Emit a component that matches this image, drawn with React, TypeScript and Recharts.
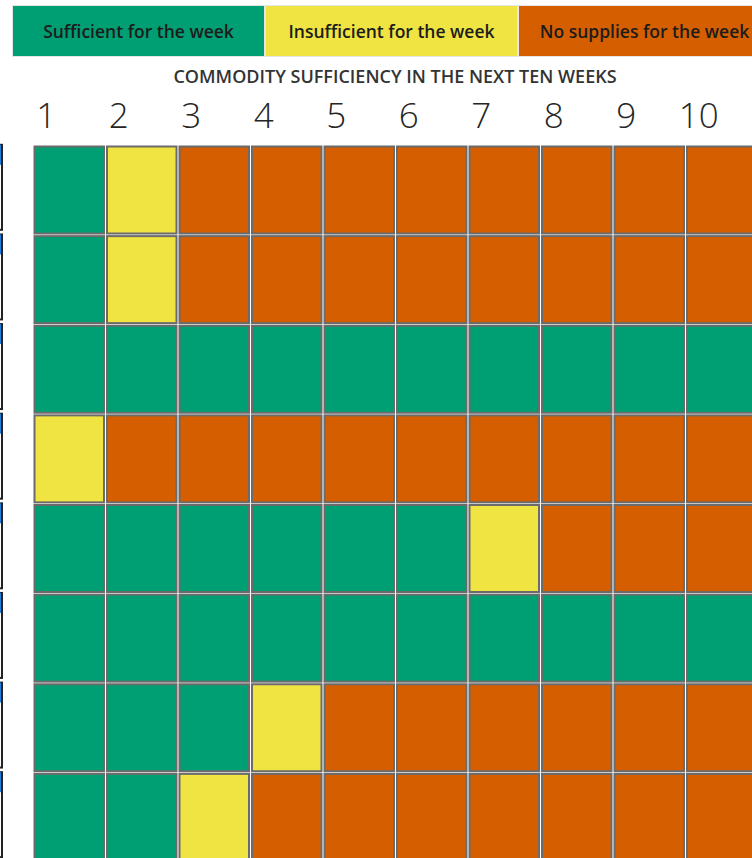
import { BarChart, Bar, XAxis, YAxis, Cell } from 'recharts';

// 0 = sufficient, 1 = insufficient, 2 = no supplies
const weeks = ['1', '2', '3', '4', '5', '6', '7', '8', '9', '10'];
const statusLabels = ['Sufficient for the week', 'Insufficient for the week', 'No supplies for the week'];
const statusColors = ['#009E73', '#F0E442', '#D55E00'];

const commodity1 = [0, 1, 2, 2, 2, 2, 2, 2, 2, 2];
const commodity2 = [0, 1, 2, 2, 2, 2, 2, 2, 2, 2];
const commodity3 = [0, 0, 0, 0, 0, 0, 0, 0, 0, 0];
const commodity4 = [1, 2, 2, 2, 2, 2, 2, 2, 2, 2];
const commodity5 = [0, 0, 0, 0, 0, 0, 1, 2, 2, 2];
const commodity6 = [0, 0, 0, 0, 0, 0, 0, 0, 0, 0];
const commodity7 = [0, 0, 0, 1, 2, 2, 2, 2, 2, 2];
const commodity8 = [0, 0, 1, 2, 2, 2, 2, 2, 2, 2];

const commodities = ['c1', 'c2', 'c3', 'c4', 'c5', 'c6', 'c7', 'c8'];
const grid = [commodity1, commodity2, commodity3, commodity4, commodity5, commodity6, commodity7, commodity8];

const data = commodities.map((c) => {
  const row: Record<string, string | number> = { row: c };
  weeks.forEach((_, k) => { row['w' + k] = 1; });
  return row;
});

const weekTicks = weeks.map((_, k) => k + 0.5);

const CellShape = (props: any) => {
  const { x, y, width, height, fill } = props;
  return (
    <rect x={x + 1.5} y={y + 1.5} width={width - 3} height={height - 3}
      fill={fill} stroke="#6b6b6b" strokeWidth={2} />
  );
};

const WeekTick = (props: any) => {
  const { x, y, payload } = props;
  return (
    <text x={x - 23} y={y} dy={-9} textAnchor="middle" fontSize={35} fontWeight={300}
      fill="#252525" fontFamily="'Open Sans', sans-serif">
      {weeks[Math.floor(payload.value)]}
    </text>
  );
};

// the row labels are cut off at the left edge, only their frames show
const RowTick = (props: any) => {
  const { y } = props;
  return (
    <g>
      <rect x={-12} y={y - 45} width={14} height={85} fill="#fff" stroke="#222" strokeWidth={2} />
      <rect x={-12} y={y - 45} width={13} height={20} fill="#1e7fe0" />
    </g>
  );
};

export default function App() {
  return (
    <div style={{ position: 'fixed', left: 0, top: 0, width: 752, height: 858, overflow: 'hidden', background: '#fff', fontFamily: "'Open Sans', sans-serif" }}>
      {statusLabels.map((label, i) => (
        <div key={label} style={{
          position: 'absolute', top: 5, left: 12 + i * 253, width: 253, height: 52,
          background: statusColors[i], display: 'flex', alignItems: 'center', justifyContent: 'center',
          fontSize: 17.5, fontWeight: 600, color: '#1c1c1c', boxSizing: 'border-box',
          border: '1px solid #e6e6e6', whiteSpace: 'nowrap',
        }}>
          {label}
        </div>
      ))}
      <div style={{ position: 'absolute', top: 64, left: 0, width: 790, textAlign: 'center', fontSize: 18, fontWeight: 600, color: '#333' }}>
        COMMODITY SUFFICIENCY IN THE NEXT TEN WEEKS
      </div>
      <div style={{ position: 'absolute', left: 0, top: 0 }}>
        <BarChart width={758} height={862} data={data} layout="vertical"
          margin={{ top: 125, right: 0, bottom: 0, left: 0 }} barCategoryGap={0} barGap={0}>
          <XAxis type="number" orientation="top" domain={[0, 10]} ticks={weekTicks}
            axisLine={false} tickLine={false} tick={<WeekTick />} height={20} allowDataOverflow />
          <YAxis type="category" dataKey="row" width={33} axisLine={false} tickLine={false} tick={<RowTick />} />
          {weeks.map((_, k) => (
            <Bar key={k} dataKey={'w' + k} stackId="a" shape={<CellShape />} isAnimationActive={false}>
              {grid.map((r, i) => <Cell key={i} fill={statusColors[r[k]]} />)}
            </Bar>
          ))}
        </BarChart>
      </div>
    </div>
  );
}
